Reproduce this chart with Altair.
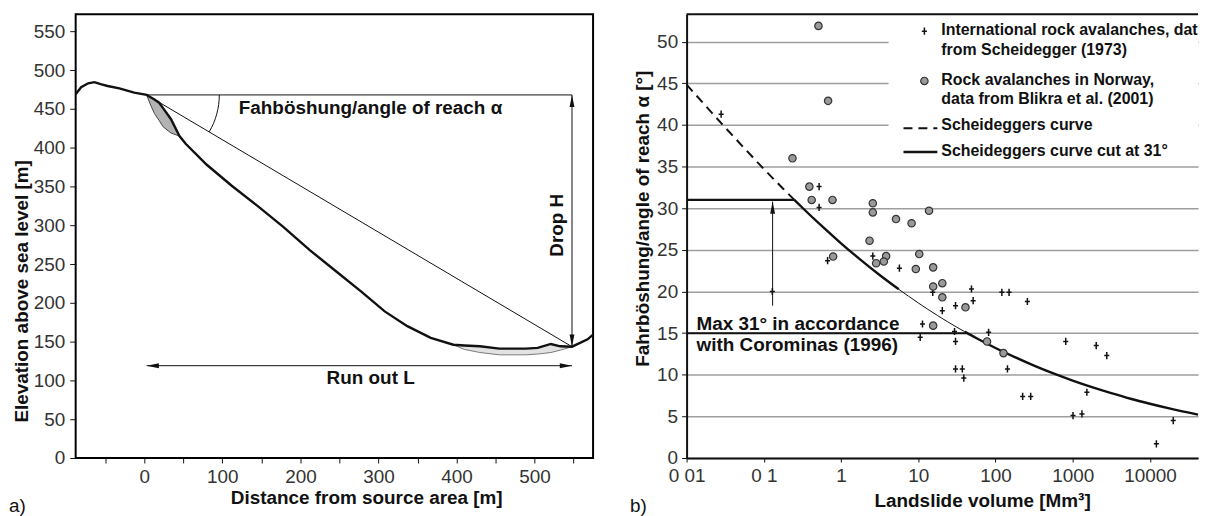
import altair as alt
import pandas as pd

FONT = "Liberation Sans"
INK = "#111111"
LABEL = "#333333"
GRID = "#9e9e9e"

# ---------------- panel a) : slope profile (metres) ----------------
terrain_x = [-88, -81, -72, -64, -56, -47, -32, -13, 3, 8, 13, 19, 24, 34, 45, 53, 80, 112, 145, 178,
             212, 244, 278, 308, 337, 367, 396, 410, 430, 455, 489, 504, 521, 533, 548, 568, 575]
terrain_y = [469, 478, 483, 484.5, 482, 479.5, 476.5, 471, 468, 465, 462, 458, 451, 437, 415, 405, 378,
             351, 325, 298, 268, 242, 214.5, 189, 170, 155, 146, 145, 144, 141, 141, 142, 147, 144,
             143.5, 153, 159]
source_x = [3, 8, 13, 19, 24, 34, 45]
source_top = [468, 465, 462, 458, 451, 437, 415]
source_bottom = [468, 455, 444, 435, 427, 419, 415]
deposit_x = [396, 410, 430, 455, 489, 504, 521, 533, 548]
deposit_top = [146, 145, 144, 141, 141, 142, 147, 144, 143.5]
deposit_bottom = [146, 140, 136, 133, 133, 134, 136, 139, 143.5]
top_pt = [3, 468]          # source point
toe_pt = [548, 143.5]      # toe of deposit
runout_level = [119]
a_xticks = list(range(-50, 551, 50))
a_yticks = list(range(0, 551, 50))

# ---------------- panel b) : angle of reach vs volume ----------------
scheid_v = [0.028, 0.129, 0.52, 0.52, 0.67, 2.58, 5.7, 15.4, 48.9, 121, 150, 259, 51.4, 30.4, 20.5,
            11.35, 10.6, 29.5, 81.5, 30.4, 30.4, 37.2, 38.9, 143, 225, 286, 813, 2018, 2763, 1528,
            1010, 1318, 20045, 12130]
scheid_a = [41.3, 20.0, 32.6, 30.1, 23.7, 24.25, 22.8, 19.9, 20.3, 19.9, 19.9, 18.8, 18.9, 18.3, 17.7,
            16.1, 14.5, 15.2, 15.1, 14.0, 10.7, 10.7, 9.6, 10.7, 7.4, 7.4, 14.0, 13.5, 12.3, 7.9,
            5.1, 5.3, 4.5, 1.7]
blikra_v = [0.51, 0.68, 0.235, 0.389, 0.417, 0.775, 2.58, 2.58, 5.15, 8.2, 13.8, 2.34, 0.79, 3.84,
            3.58, 2.85, 10.3, 9.3, 15.6, 20.5, 15.6, 20.5, 40.9, 15.6, 77.8, 127]
blikra_a = [51.9, 42.9, 36.0, 32.6, 31.0, 31.0, 30.6, 29.5, 28.7, 28.2, 29.7, 26.1, 24.2, 24.25,
            23.6, 23.4, 24.5, 22.7, 22.9, 21.0, 20.6, 19.3, 18.1, 15.9, 14.0, 12.6]
dash_v = [0.01, 0.0178, 0.0316, 0.0562, 0.1, 0.178, 0.249]
dash_a = [44.84, 42.26, 39.70, 37.19, 34.72, 32.35, 31.0]
flat31_v = [0.01, 0.249]
flat31_a = [31.0, 31.0]
thick1_v = [0.249, 0.316, 0.562, 1, 1.78, 3.16, 5.6]
thick1_a = [31.0, 30.06, 27.87, 25.79, 23.83, 21.98, 20.26]
thin_v = [5.6, 10, 17.8, 31.6, 40]
thin_a = [20.26, 18.63, 17.11, 15.71, 15.17]
thick2_v = [40, 56.2, 100, 178, 316, 562, 1000, 1778, 3162, 5623, 10000, 17783, 42000]
thick2_a = [15.17, 14.42, 13.22, 12.12, 11.10, 10.16, 9.30, 8.51, 7.79, 7.12, 6.52, 5.96, 5.21]
flat15_v = [0.01, 42]
flat15_a = [15.0, 15.0]
arrow_v = [0.13]
arrow_a = [18.3, 30.8]
b_xticks = [0.01, 0.1, 1, 10, 100, 1000, 10000]
b_yticks = list(range(0, 51, 5))

# ---------------- shared styling ----------------
common = dict(labelFont=FONT, labelFontSize=19, labelColor=LABEL, titleFont=FONT, titleFontSize=19,
              titleFontWeight="bold", titleColor=INK, tickColor=INK, tickWidth=1, labelFlush=False,
              labelOverlap=False)

UP = "M0,0L0.4,2L-0.4,2Z"
DOWN = "M0,0L0.4,-2L-0.4,-2Z"
LEFT = "M0,0L2,0.4L2,-0.4Z"
RIGHT = "M0,0L-2,0.4L-2,-0.4Z"
ARC = "M1,0A1,1 0 0 1 0.8604,0.5096"
CROSS = "M-0.7,0L0.7,0M0,-1L0,1"

# ================= panel a =================
xsa = alt.Scale(domain=[-88, 575], nice=False, zero=False)
ysa = alt.Scale(domain=[0, 572], nice=False, zero=False)
xaxa = alt.Axis(values=a_xticks, labelExpr="datum.value % 100 == 0 ? datum.label : ''", domain=False,
                grid=False, tickSize=5, labelPadding=5, title="Distance from source area [m]",
                titleX=292, titleY=46, titleBaseline="alphabetic", titleAlign="center", **common)
yaxa = alt.Axis(values=a_yticks, domain=False, grid=False, tickSize=6, labelPadding=5,
                title="Elevation above sea level [m]", titleX=-48, titleY=278, titleAngle=270,
                titleBaseline="alphabetic", titleAlign="center", **common)


def xa(f):
    return alt.X(f, type="quantitative", scale=xsa, axis=xaxa)


def ya(f):
    return alt.Y(f, type="quantitative", scale=ysa, axis=yaxa)


ter_df = pd.DataFrame({"x": terrain_x, "y": terrain_y})
src_df = pd.DataFrame({"x": source_x, "top": source_top, "bottom": source_bottom})
dep_df = pd.DataFrame({"x": deposit_x, "top": deposit_top, "bottom": deposit_bottom})
guide_df = pd.DataFrame({
    "x": [top_pt[0], top_pt[0], toe_pt[0], top_pt[0]],
    "y": [top_pt[1], top_pt[1], top_pt[1], runout_level[0]],
    "x2": [toe_pt[0], toe_pt[0], toe_pt[0], toe_pt[0]],
    "y2": [top_pt[1], toe_pt[1], toe_pt[1], runout_level[0]],
})

a_layers = [
    alt.Chart(dep_df).mark_area(color="#e2e2e2").encode(x=xa("x"), y=ya("top"), y2="bottom"),
    alt.Chart(dep_df).mark_line(color="#7a7a7a", strokeWidth=1).encode(x=xa("x"), y=ya("bottom")),
    alt.Chart(src_df).mark_area(color="#b3b3b3").encode(x=xa("x"), y=ya("top"), y2="bottom"),
    alt.Chart(src_df).mark_line(color="#444444", strokeWidth=1).encode(x=xa("x"), y=ya("bottom")),
    alt.Chart(guide_df).mark_rule(color=INK, strokeWidth=1).encode(x=xa("x"), y=ya("y"), x2="x2", y2="y2"),
    alt.Chart(ter_df).mark_line(color=INK, strokeWidth=2.4).encode(x=xa("x"), y=ya("y")),
]
heads = [
    (UP, toe_pt[0], top_pt[1]),
    (DOWN, toe_pt[0], toe_pt[1]),
    (LEFT, top_pt[0], runout_level[0]),
    (RIGHT, toe_pt[0], runout_level[0]),
]
for shp, hx, hy in heads:
    a_layers.append(
        alt.Chart(pd.DataFrame({"x": [hx], "y": [hy]}))
        .mark_point(shape=shp, filled=True, color=INK, size=150, opacity=1)
        .encode(x=xa("x"), y=ya("y"))
    )
a_layers.append(
    alt.Chart(pd.DataFrame({"x": [top_pt[0]], "y": [top_pt[1]]}))
    .mark_point(shape=ARC, filled=False, color=INK, strokeWidth=1, size=21316, opacity=1)
    .encode(x=xa("x"), y=ya("y"))
)
a_text = pd.DataFrame({"x": [121, 290], "y": [443, 95],
                       "t": ["Fahböshung/angle of reach α", "Run out L"]})
a_layers.append(
    alt.Chart(a_text.iloc[[0]]).mark_text(font=FONT, fontSize=19, fontWeight="bold", color=INK,
                                          align="left", baseline="alphabetic")
    .encode(x=xa("x"), y=ya("y"), text="t")
)
a_layers.append(
    alt.Chart(a_text.iloc[[1]]).mark_text(font=FONT, fontSize=19, fontWeight="bold", color=INK,
                                          align="center", baseline="alphabetic")
    .encode(x=xa("x"), y=ya("y"), text="t")
)
a_layers.append(
    alt.Chart(pd.DataFrame({"x": [537], "y": [300], "t": ["Drop H"]}))
    .mark_text(font=FONT, fontSize=19, fontWeight="bold", color=INK, align="center",
               baseline="alphabetic", angle=270)
    .encode(x=xa("x"), y=ya("y"), text="t")
)
a_layers.append(
    alt.Chart(pd.DataFrame({"t": ["a)"]}))
    .mark_text(font=FONT, fontSize=19, color=INK, align="left", baseline="alphabetic")
    .encode(x=alt.value(-67), y=alt.value(500), text="t")
)

left = alt.layer(*a_layers).properties(
    width=520, height=446, view=alt.ViewBackground(stroke="black", strokeWidth=2)
)

# ================= panel b =================
xsb = alt.Scale(type="log", domain=[0.01, 42000], nice=False)
ysb = alt.Scale(domain=[0, 53.3], nice=False, zero=False)
xaxb = alt.Axis(values=b_xticks,
                labelExpr="datum.value < 0.05 ? '0 01' : (datum.value < 0.5 ? '0 1' : format(datum.value, 'd'))",
                domain=True, domainColor=INK, domainWidth=2, grid=False, tickSize=4, labelPadding=5,
                title="Landslide volume [Mm³]", titleX=297, titleY=48.5, titleBaseline="alphabetic",
                titleAlign="center", **common)
yaxb = alt.Axis(values=b_yticks, domain=True, domainColor=INK, domainWidth=2, grid=True,
                gridColor=GRID, gridWidth=1.5, tickSize=5, labelPadding=4,
                title="Fahrböshung/angle of reach α [°]", titleX=-38, titleY=205, titleAngle=270,
                titleBaseline="alphabetic", titleAlign="center", **common)


def xb(f):
    return alt.X(f, type="quantitative", scale=xsb, axis=xaxb)


def yb(f):
    return alt.Y(f, type="quantitative", scale=ysb, axis=yaxb)


def line_df(v, a):
    return pd.DataFrame({"v": v, "a": a})


b_layers = [
    alt.Chart(pd.DataFrame({"d": [0]})).mark_rect(color="white")
    .encode(x=alt.value(203), x2=alt.value(514), y=alt.value(1), y2=alt.value(150)),
    alt.Chart(pd.DataFrame({"d": [0]})).mark_rule(color=INK, strokeWidth=2)
    .encode(x=alt.value(0), x2=alt.value(514), y=alt.value(0)),
    alt.Chart(line_df(flat15_v, flat15_a)).mark_line(color=INK, strokeWidth=2).encode(x=xb("v"), y=yb("a")),
    alt.Chart(line_df(dash_v, dash_a)).mark_line(color=INK, strokeWidth=2, strokeDash=[9, 6],
                                                 interpolate="monotone").encode(x=xb("v"), y=yb("a")),
    alt.Chart(line_df(flat31_v, flat31_a)).mark_line(color=INK, strokeWidth=2.4).encode(x=xb("v"), y=yb("a")),
    alt.Chart(line_df(thick1_v, thick1_a)).mark_line(color=INK, strokeWidth=2.4,
                                                     interpolate="monotone").encode(x=xb("v"), y=yb("a")),
    alt.Chart(line_df(thin_v, thin_a)).mark_line(color=INK, strokeWidth=1,
                                                 interpolate="monotone").encode(x=xb("v"), y=yb("a")),
    alt.Chart(line_df(thick2_v, thick2_a)).mark_line(color=INK, strokeWidth=2.4,
                                                     interpolate="monotone").encode(x=xb("v"), y=yb("a")),
    alt.Chart(pd.DataFrame({"v": arrow_v, "a": [arrow_a[0]], "a2": [arrow_a[1]]}))
    .mark_rule(color=INK, strokeWidth=1).encode(x=xb("v"), y=yb("a"), y2="a2"),
    alt.Chart(pd.DataFrame({"v": arrow_v, "a": [arrow_a[1]]}))
    .mark_point(shape=UP, filled=True, color=INK, size=150, opacity=1).encode(x=xb("v"), y=yb("a")),
    alt.Chart(line_df(scheid_v, scheid_a))
    .mark_point(shape=CROSS, filled=False, color=INK, strokeWidth=1.5, size=52, opacity=1)
    .encode(x=xb("v"), y=yb("a")),
    alt.Chart(line_df(blikra_v, blikra_a))
    .mark_point(shape="circle", filled=True, fill="#9a9a9a", stroke="#333333", strokeWidth=1.2,
                size=55, opacity=1)
    .encode(x=xb("v"), y=yb("a")),
]

max_text = ["Max 31° in accordance", "with Corominas (1996)"]
max_pos = [(0.01345, 15.41), (0.01345, 12.85)]
for t, (tv, ta) in zip(max_text, max_pos):
    b_layers.append(
        alt.Chart(pd.DataFrame({"v": [tv], "a": [ta], "t": [t]}))
        .mark_text(font=FONT, fontSize=19, fontWeight="bold", color=INK, align="left", baseline="alphabetic")
        .encode(x=xb("v"), y=yb("a"), text="t")
    )

legend_text = ["International rock avalanches, data", "from Scheidegger (1973)",
               "Rock avalanches in Norway,", "data from Blikra et al. (2001)",
               "Scheideggers curve", "Scheideggers curve cut at 31°"]
legend_base = [21, 40.5, 71, 90, 116.5, 142]
for t, by in zip(legend_text, legend_base):
    b_layers.append(
        alt.Chart(pd.DataFrame({"t": [t]}))
        .mark_text(font=FONT, fontSize=16, fontWeight="bold", color=INK, align="left",
                   baseline="alphabetic", clip=True)
        .encode(x=alt.value(256), y=alt.value(by), text="t")
    )
b_layers += [
    alt.Chart(pd.DataFrame({"d": [0]}))
    .mark_point(shape=CROSS, filled=False, color=INK, strokeWidth=1.5, size=52, opacity=1)
    .encode(x=alt.value(239), y=alt.value(17)),
    alt.Chart(pd.DataFrame({"d": [0]}))
    .mark_point(shape="circle", filled=True, fill="#9a9a9a", stroke="#333333", strokeWidth=1.2,
                size=55, opacity=1)
    .encode(x=alt.value(239), y=alt.value(67)),
    alt.Chart(pd.DataFrame({"d": [0]})).mark_rule(color=INK, strokeWidth=2, strokeDash=[9, 6])
    .encode(x=alt.value(218), x2=alt.value(252), y=alt.value(114.5)),
    alt.Chart(pd.DataFrame({"d": [0]})).mark_rule(color=INK, strokeWidth=2.4)
    .encode(x=alt.value(218), x2=alt.value(252), y=alt.value(138.5)),
    alt.Chart(pd.DataFrame({"t": ["b)"]}))
    .mark_text(font=FONT, fontSize=19, color=INK, align="left", baseline="alphabetic")
    .encode(x=alt.value(-57), y=alt.value(500), text="t"),
]

right = alt.layer(*b_layers).properties(
    width=514, height=446, view=alt.ViewBackground(strokeWidth=0)
)

chart = (
    alt.hconcat(left, right, spacing=94, bounds="flush")
    .properties(padding={"left": 0, "top": 4, "right": 0, "bottom": 0}, background="white")
    .configure(font=FONT)
    .configure_view(strokeWidth=0)
)

chart.save("out.html", embed_options={"renderer": "svg", "actions": False})
